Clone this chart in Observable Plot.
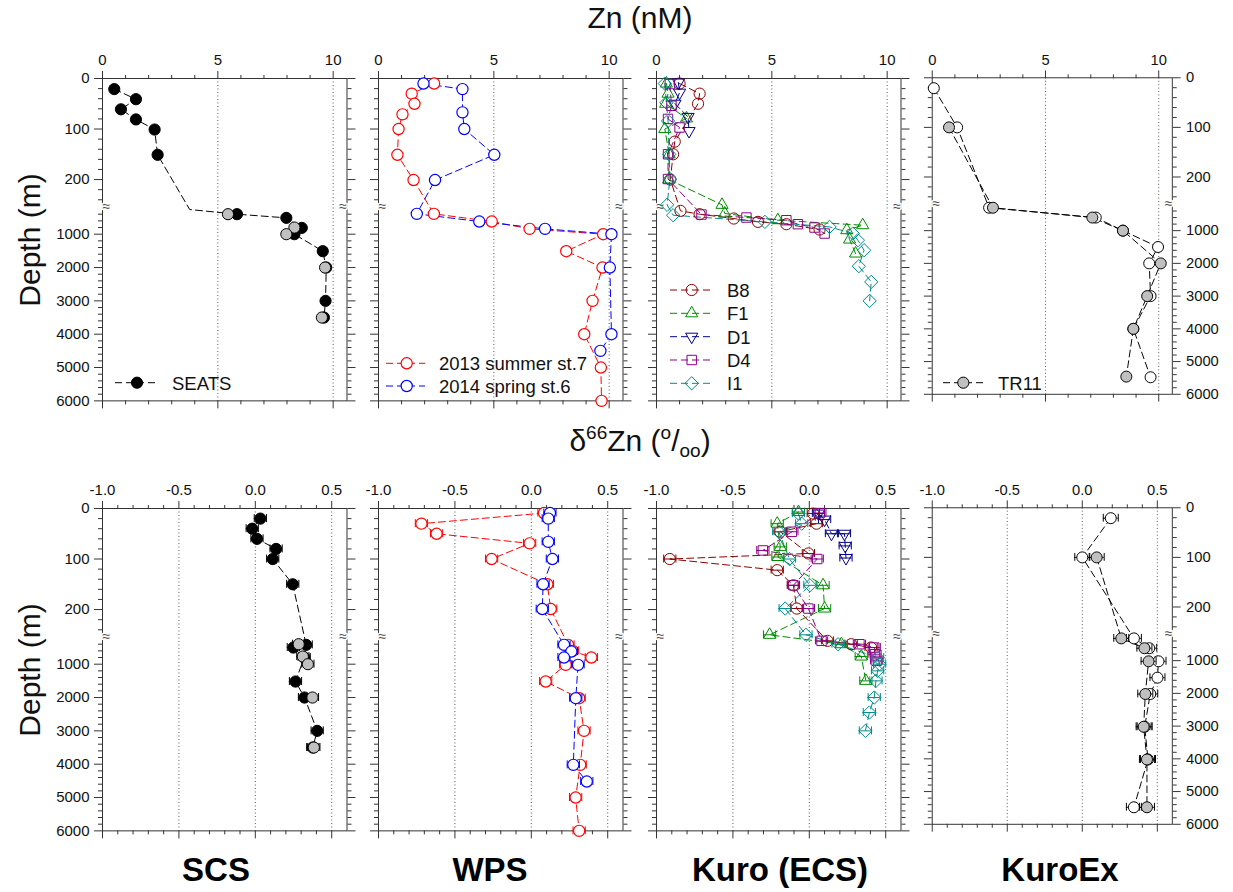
<!DOCTYPE html>
<html><head><meta charset="utf-8">
<script src="https://cdn.jsdelivr.net/npm/d3@7"></script>
<script src="https://cdn.jsdelivr.net/npm/@observablehq/plot@0.6"></script>
<style>
body{margin:0;background:#fff;}
#wrap{position:relative;width:1233px;height:892px;overflow:hidden;font-family:"Liberation Sans",Arial,Helvetica,sans-serif;}
.pnl{position:absolute;}
</style></head><body><div id="wrap"></div>
<script>
// ================= DATA =================
// depth axis (m): tick values and labels
const depthMajor = [0,100,200,1000,2000,3000,4000,5000,6000];
const depthLabels = ["0","100","200","1000","2000","3000","4000","5000","6000"];
const depthMinor = [20,40,60,80,120,140,160,180,220,240,400,600,800,1200,1400,1600,1800,2200,2400,2600,2800,3200,3400,3600,3800,4200,4400,4600,4800,5200,5400,5600,5800];
// Zn axis
const znMajor = [0,5,10];
const znLabels = ["0","5","10"];
const znMinor = [1,2,3,4,6,7,8,9];
const znGrid = [5,10];
// d66Zn axis
const d66Major = [-1,-0.5,0,0.5];
const d66Labels = ["-1.0","-0.5","0.0","0.5"];
const d66Minor = [-0.9,-0.8,-0.7,-0.6,-0.4,-0.3,-0.2,-0.1,0.1,0.2,0.3,0.4];
const d66Grid = [-0.5,0,0.5];

// ---- Zn (nM), SCS / SEATS ----
const seatsZnBlack = [0.51,1.45,0.80,1.45,2.26,2.39,3.78,5.83,7.97,8.64,8.32,9.55,9.70,9.67,9.60];
const seatsZnBlackDepth = [21,41,61,81,101,151,260,400,510,810,1000,1510,2000,3000,3500];
const seatsZnBlackMarked = [1,1,1,1,1,1,0,1,1,1,1,1,1,1,1];
const seatsZnGray = [5.44,8.32,7.97,9.65,9.51];
const seatsZnGrayDepth = [400,800,1000,2000,3500];
// ---- Zn (nM), WPS ----
const wps13Zn = [2.41,1.44,1.56,1.04,0.87,0.82,1.52,2.40,4.91,6.55,9.74,8.14,9.71,9.28,8.92,9.64,9.67];
const wps13ZnDepth = [10,30,50,71,100,151,201,390,620,840,1000,1510,2000,3000,4000,5000,6000];
const wps14Zn = [1.95,3.64,3.64,3.72,5.02,2.45,1.66,4.37,7.22,10.10,10.03,10.10,9.62];
const wps14ZnDepth = [10,21,67,100,151,201,390,620,840,1000,2000,4000,4500];
// ---- Zn (nM), Kuro (ECS) ----
const b8Zn = [1.00,1.87,1.80,0.79,0.72,0.60,1.04,1.87,3.35,4.40,5.63,7.07];
const b8ZnDepth = [10,30,50,125,150,200,300,400,530,630,700,860];
const f1Zn = [0.43,0.50,0.40,1.30,0.36,0.55,0.53,2.84,2.96,5.26,8.94,8.25,8.37,8.63];
const f1ZnDepth = [10,30,50,79,100,150,200,250,380,580,730,880,1160,1580];
const d1Zn = [0.95,1.00,0.80,1.37,1.41];
const d1ZnDepth = [8,28,50,76,104];
const d4Zn = [0.58,0.65,0.50,1.00,0.50,0.50,1.95,3.90,5.63,6.13,6.85,7.29];
const d4ZnDepth = [11,54,80,97,150,199,410,500,580,700,800,980];
const i1Zn = [0.36,0.43,0.50,0.55,0.58,0.46,0.72,4.70,7.50,8.51,8.73,9.00,8.77,9.31,9.24];
const i1ZnDepth = [10,48,84,150,199,250,430,630,780,980,1180,1480,1960,2430,3000];
// ---- Zn (nM), KuroEx / TR11 ----
const tr11ZnOpen = [0.07,1.10,2.51,7.22,8.42,9.97,9.58,9.64,8.88,9.64];
const tr11ZnOpenDepth = [21,100,300,600,1000,1500,2000,3000,4000,5480];
const tr11ZnGray = [0.74,2.68,7.07,8.42,10.09,9.49,8.88,8.57];
const tr11ZnGrayDepth = [100,300,600,1000,2000,3000,4000,5460];

// ---- d66Zn (permil), SCS ----
const scsD66Black = [0.033,-0.020,0.011,0.136,0.114,0.245,0.333,0.249,0.320,0.263,0.322,0.405,0.376];
const scsD66BlackDepth = [20,40,60,80,100,150,420,500,800,1520,2000,3000,3500];
const scsD66Gray = [0.284,0.311,0.344,0.374,0.383];
const scsD66GrayDepth = [400,770,1000,2000,3500];
// ---- d66Zn, WPS ----
const wps13D66 = [0.083,-0.719,-0.620,-0.011,-0.260,0.105,0.127,0.240,0.270,0.393,0.225,0.094,0.313,0.345,0.320,0.290,0.313];
const wps13D66Depth = [9,30,50,69,100,150,199,420,600,800,1020,1520,2020,3000,4020,5000,6000];
const wps14D66 = [0.122,0.111,0.111,0.138,0.077,0.072,0.214,0.262,0.214,0.306,0.291,0.275,0.363];
const wps14D66Depth = [9,20,66,100,150,199,420,620,800,1020,2020,4020,4520];
// ---- d66Zn, Kuro (ECS) ----
const b8D66 = [0.026,0.047,-0.190,-0.006,-0.913,-0.210,-0.104,-0.082,0.119,0.274,0.404];
const b8D66Depth = [10,30,46,89,100,122,152,198,300,400,500];
const f1D66 = [-0.071,-0.210,-0.190,-0.205,0.090,0.100,-0.260,0.210,0.340,0.370];
const f1D66Depth = [7,30,76,96,152,198,250,400,770,1500];
const d1D66 = [0.060,0.100,0.145,0.230,0.235,0.240];
const d1D66Depth = [10,22,50,50,74,98];
const d4D66 = [0.069,-0.114,-0.304,0.052,-0.104,-0.006,0.080,0.328,0.425,0.430,0.440];
const d4D66Depth = [9,46,83,100,152,198,300,400,500,700,900];
const i1D66 = [-0.071,-0.050,-0.200,-0.130,0.004,-0.158,-0.022,0.188,0.447,0.460,0.447,0.436,0.425,0.393,0.367];
const i1D66Depth = [10,30,46,100,152,198,250,400,800,1000,1200,1500,2000,2450,3000];
// ---- d66Zn, KuroEx / TR11 ----
const tr11D66Open = [0.190,0.000,0.344,0.446,0.508,0.501,0.453,0.416,0.438,0.344];
const tr11D66OpenDepth = [21,100,320,620,1020,1520,2020,3020,4020,5480];
const tr11D66Gray = [0.096,0.260,0.414,0.442,0.420,0.409,0.431,0.431];
const tr11D66GrayDepth = [100,320,620,1020,2020,3020,4020,5480];
// 2SD analytical uncertainty of d66Zn (permil)
const errSCS = 0.04, errWPS = 0.04, errKuro = 0.04, errKuroEx = 0.05;

// ================= LAYOUT / STYLE =================
const FONT = '"Liberation Sans", Arial, Helvetica, sans-serif';
const C = {B8:"#8b0000", F1:"#008c00", D1:"#00008b", D4:"#8b008b", I1:"#008b8b", red:"#ff0000", blue:"#0000ff", gray:"#c0c0c0"};
// broken depth axis: 0-250 m expanded, 250-6000 m compressed
const UP = 0.5053, LOW1000 = 155.7, LOWRATE = 1/30;
function vy(d){ return d <= 250 ? d*UP : LOW1000 + (d-1000)*LOWRATE; }
const yMax = vy(6000);
const breakV = (250*UP + LOW1000 + (250-1000)*LOWRATE)/2;
const triDown = {draw(ctx, size){ const s=Math.sqrt(size)*0.6824, t=s/2, u=s*Math.sqrt(3)/2; ctx.moveTo(0,s); ctx.lineTo(u,-t); ctx.lineTo(-u,-t); ctx.closePath(); }};

const W = 244.5, MT = 40, MB = 14;
const lefts = [102.3, 378.3, 656, 932.3];
const tops = [78.3, 508.3];
const wrap = document.getElementById("wrap");

function rows(xs, ds, marked){ return xs.map((x,i)=>({x, d: ds[i], m: marked ? marked[i] : 1})); }

function makePanel(c){
  const mL = c.side==="left" ? 62 : 14, mR = c.side==="right" ? 62 : 14;
  const majorV = depthMajor.map(vy), minorV = depthMinor.map(vy);
  const yLab = new Map(majorV.map((v,i)=>[v, depthLabels[i]]));
  const xLab = new Map(c.xMajor.map((x,i)=>[x, c.xLabels[i]]));
  const blank = () => "";
  const ax = {label:null, stroke:"#333", fill:"#111", fontSize:15};
  const marks = [
    Plot.ruleX(c.grid, {stroke:"#555", strokeDasharray:"1,2.5", strokeWidth:1}),
    Plot.frame({stroke:"#333"}),
    Plot.axisX(c.xMajor, {...ax, anchor:"top", tickSize:8, tickPadding:5, tickFormat: x => xLab.get(x)}),
    Plot.axisX(c.xMinor, {...ax, anchor:"top", tickSize:4, tickFormat: blank}),
    Plot.axisX(c.xMajor, {...ax, anchor:"bottom", tickSize:8, tickFormat: blank}),
    Plot.axisX(c.xMinor, {...ax, anchor:"bottom", tickSize:4, tickFormat: blank}),
    Plot.axisY(majorV, {...ax, anchor:"left", tickSize:8, tickPadding:5, tickFormat: c.side==="left" ? v => yLab.get(v) : blank}),
    Plot.axisY(minorV, {...ax, anchor:"left", tickSize:4, tickFormat: blank}),
    Plot.axisY(majorV, {...ax, anchor:"right", tickSize:8, tickPadding:6, tickFormat: c.side==="right" ? v => yLab.get(v) : blank}),
    Plot.axisY(minorV, {...ax, anchor:"right", tickSize:4, tickFormat: blank}),
    Plot.text([breakV], {y: d=>d, frameAnchor:"left", text: ()=>"\u2248", fontSize:14, fill:"#444", stroke:"white", strokeWidth:3, paintOrder:"stroke"}),
    Plot.text([breakV], {y: d=>d, frameAnchor:"right", text: ()=>"\u2248", fontSize:14, fill:"#444", stroke:"white", strokeWidth:3, paintOrder:"stroke"})
  ];
  const sets = c.series.map(s => ({s, data: rows(s.x, s.depth, s.marked)}));
  for (const {s, data} of sets) {
    marks.push(Plot.line(data, {x:"x", y: r=>vy(r.d), stroke: s.lineColor || s.stroke, strokeWidth:1, strokeDasharray:"7,4"}));
  }
  for (const {s, data} of sets) {
    const shown = data.filter(r => r.m);
    if (s.err) {
      marks.push(Plot.ruleY(shown, {y: r=>vy(r.d), x1: r=>r.x - s.err, x2: r=>r.x + s.err, stroke: s.stroke, strokeWidth:1}));
      marks.push(Plot.ruleX(shown, {x: r=>r.x - s.err, y1: r=>vy(r.d)-4, y2: r=>vy(r.d)+4, stroke: s.stroke, strokeWidth:1}));
      marks.push(Plot.ruleX(shown, {x: r=>r.x + s.err, y1: r=>vy(r.d)-4, y2: r=>vy(r.d)+4, stroke: s.stroke, strokeWidth:1}));
    }
    marks.push(Plot.dot(shown, {x:"x", y: r=>vy(r.d), r: s.r || 5.6, symbol: s.symbol || "circle", fill: s.fill, stroke: s.stroke, strokeWidth: s.sw || 1}));
  }
  const svg = Plot.plot({
    width: mL + W + mR, height: MT + yMax + MB,
    marginLeft: mL, marginRight: mR, marginTop: MT, marginBottom: MB,
    x: {domain: c.xDomain, label: null},
    y: {domain: [0, yMax], reverse: true, label: null},
    style: {background:"transparent", overflow:"visible", fontFamily: FONT, fontSize:"15px", color:"#111"},
    marks
  });
  const div = document.createElement("div");
  div.className = "pnl";
  div.style.left = (c.left - mL) + "px";
  div.style.top = (c.top - MT) + "px";
  div.appendChild(svg);
  wrap.appendChild(div);
}

const topCommon = {top: tops[0], xDomain:[0,10.6], xMajor: znMajor, xLabels: znLabels, xMinor: znMinor, grid: znGrid};
const botCommon = {top: tops[1], xDomain:[-1,0.6], xMajor: d66Major, xLabels: d66Labels, xMinor: d66Minor, grid: d66Grid};

// top row
makePanel({...topCommon, left: lefts[0], side:"left", series:[
  {x: seatsZnBlack, depth: seatsZnBlackDepth, marked: seatsZnBlackMarked, fill:"#000", stroke:"#000", lineColor:"#000"},
  {x: seatsZnGray, depth: seatsZnGrayDepth, fill:C.gray, stroke:"#000", lineColor:"none"}
]});
makePanel({...topCommon, left: lefts[1], series:[
  {x: wps13Zn, depth: wps13ZnDepth, fill:"#fff", stroke:C.red, sw:1.2},
  {x: wps14Zn, depth: wps14ZnDepth, fill:"#fff", stroke:C.blue, sw:1.2}
]});
makePanel({...topCommon, left: lefts[2], series:[
  {x: b8Zn, depth: b8ZnDepth, fill:"none", stroke:C.B8, symbol:"circle", r:5.6},
  {x: f1Zn, depth: f1ZnDepth, fill:"none", stroke:C.F1, symbol:"triangle2", r:5.8},
  {x: d1Zn, depth: d1ZnDepth, fill:"none", stroke:C.D1, symbol:triDown, r:5.8},
  {x: d4Zn, depth: d4ZnDepth, fill:"none", stroke:C.D4, symbol:"square2", r:6},
  {x: i1Zn, depth: i1ZnDepth, fill:"none", stroke:C.I1, symbol:"diamond2", r:6}
]});
makePanel({...topCommon, left: lefts[3], side:"right", series:[
  {x: tr11ZnOpen, depth: tr11ZnOpenDepth, fill:"#fff", stroke:"#000"},
  {x: tr11ZnGray, depth: tr11ZnGrayDepth, fill:C.gray, stroke:"#000"}
]});
// bottom row
makePanel({...botCommon, left: lefts[0], side:"left", series:[
  {x: scsD66Black, depth: scsD66BlackDepth, fill:"#000", stroke:"#000", err: errSCS},
  {x: scsD66Gray, depth: scsD66GrayDepth, fill:C.gray, stroke:"#000", lineColor:"none", err: errSCS}
]});
makePanel({...botCommon, left: lefts[1], series:[
  {x: wps13D66, depth: wps13D66Depth, fill:"#fff", stroke:C.red, sw:1.2, err: errWPS},
  {x: wps14D66, depth: wps14D66Depth, fill:"#fff", stroke:C.blue, sw:1.2, err: errWPS}
]});
makePanel({...botCommon, left: lefts[2], series:[
  {x: b8D66, depth: b8D66Depth, fill:"none", stroke:C.B8, symbol:"circle", r:5.6, err: errKuro},
  {x: f1D66, depth: f1D66Depth, fill:"none", stroke:C.F1, symbol:"triangle2", r:5.8, err: errKuro},
  {x: d1D66, depth: d1D66Depth, fill:"none", stroke:C.D1, symbol:triDown, r:5.8, err: errKuro},
  {x: d4D66, depth: d4D66Depth, fill:"none", stroke:C.D4, symbol:"square2", r:6, err: errKuro},
  {x: i1D66, depth: i1D66Depth, fill:"none", stroke:C.I1, symbol:"diamond2", r:6, err: errKuro}
]});
makePanel({...botCommon, left: lefts[3], side:"right", series:[
  {x: tr11D66Open, depth: tr11D66OpenDepth, fill:"#fff", stroke:"#000", err: errKuroEx},
  {x: tr11D66Gray, depth: tr11D66GrayDepth, fill:C.gray, stroke:"#000", err: errKuroEx}
]});

// ================= TITLES & LEGENDS (overlay) =================
const ov = d3.select(wrap).append("svg")
  .attr("width",1233).attr("height",892)
  .style("position","absolute").style("left","0px").style("top","0px")
  .style("pointer-events","none").style("font-family", FONT);

ov.append("text").attr("x",640).attr("y",28).attr("text-anchor","middle").attr("font-size",30).attr("fill","#111").text("Zn (nM)");
const dl = ov.append("text").attr("x",640).attr("y",451).attr("text-anchor","middle").attr("font-size",30).attr("fill","#111");
dl.append("tspan").text("\u03b4");
dl.append("tspan").attr("font-size",19).attr("dy",-12).text("66");
dl.append("tspan").attr("dy",12).text("Zn (");
dl.append("tspan").attr("font-size",19).attr("dy",-12).text("o");
dl.append("tspan").attr("dy",12).text("/");
dl.append("tspan").attr("font-size",19).attr("dy",6).text("oo");
dl.append("tspan").attr("dy",-6).text(")");
for (const cy of [240, 670]) {
  ov.append("text").attr("transform",`translate(40,${cy}) rotate(-90)`).attr("text-anchor","middle")
    .attr("font-size",30).attr("fill","#111").text("Depth (m)");
}
const regionNames = ["SCS","WPS","Kuro (ECS)","KuroEx"];
const regionX = [216, 490, 780, 1060];
regionNames.forEach((n,i)=>{
  ov.append("text").attr("x",regionX[i]).attr("y",881).attr("text-anchor","middle")
    .attr("font-size",33).attr("font-weight","bold").attr("fill","#000").text(n);
});

const symType = {circle: d3.symbolCircle, triangle2: d3.symbolTriangle2, square2: d3.symbolSquare2, diamond2: d3.symbolDiamond2};
function legend(items){
  for (const it of items){
    ov.append("line").attr("x1",it.x1).attr("x2",it.x2).attr("y1",it.y).attr("y2",it.y)
      .attr("stroke",it.line).attr("stroke-width",1).attr("stroke-dasharray","7,4");
    const r = it.r || 5.6;
    const type = typeof it.sym === "string" ? symType[it.sym] : it.sym;
    ov.append("path").attr("d", d3.symbol(type, r*r*Math.PI)())
      .attr("transform",`translate(${it.mx},${it.y})`)
      .attr("fill",it.fill).attr("stroke",it.stroke).attr("stroke-width",it.sw||1);
    ov.append("text").attr("x",it.tx).attr("y",it.y+6.8).attr("font-size",18.5).attr("fill","#111").text(it.label);
  }
}
legend([{x1:115,x2:156,mx:137,tx:172,y:382.7,line:"#000",sym:"circle",fill:"#000",stroke:"#000",label:"SEATS"}]);
legend([
  {x1:386,x2:425,mx:406.7,tx:439,y:363.3,line:C.red,sym:"circle",fill:"#fff",stroke:C.red,sw:1.2,label:"2013 summer st.7"},
  {x1:386,x2:425,mx:406.7,tx:439,y:386,line:C.blue,sym:"circle",fill:"#fff",stroke:C.blue,sw:1.2,label:"2014 spring st.6"}
]);
legend([
  {x1:670,x2:711,mx:691.7,tx:727,y:290,line:C.B8,sym:"circle",fill:"none",stroke:C.B8,label:"B8"},
  {x1:670,x2:711,mx:691.7,tx:727,y:313.3,line:C.F1,sym:"triangle2",fill:"none",stroke:C.F1,r:5.8,label:"F1"},
  {x1:670,x2:711,mx:691.7,tx:727,y:336.7,line:C.D1,sym:triDown,fill:"none",stroke:C.D1,r:5.8,label:"D1"},
  {x1:670,x2:711,mx:691.7,tx:727,y:360,line:C.D4,sym:"square2",fill:"none",stroke:C.D4,r:6,label:"D4"},
  {x1:670,x2:711,mx:691.7,tx:727,y:383.3,line:C.I1,sym:"diamond2",fill:"none",stroke:C.I1,r:6,label:"I1"}
]);
legend([{x1:943,x2:983,mx:963.3,tx:998,y:382.7,line:"#000",sym:"circle",fill:C.gray,stroke:"#000",label:"TR11"}]);
</script></body></html>
